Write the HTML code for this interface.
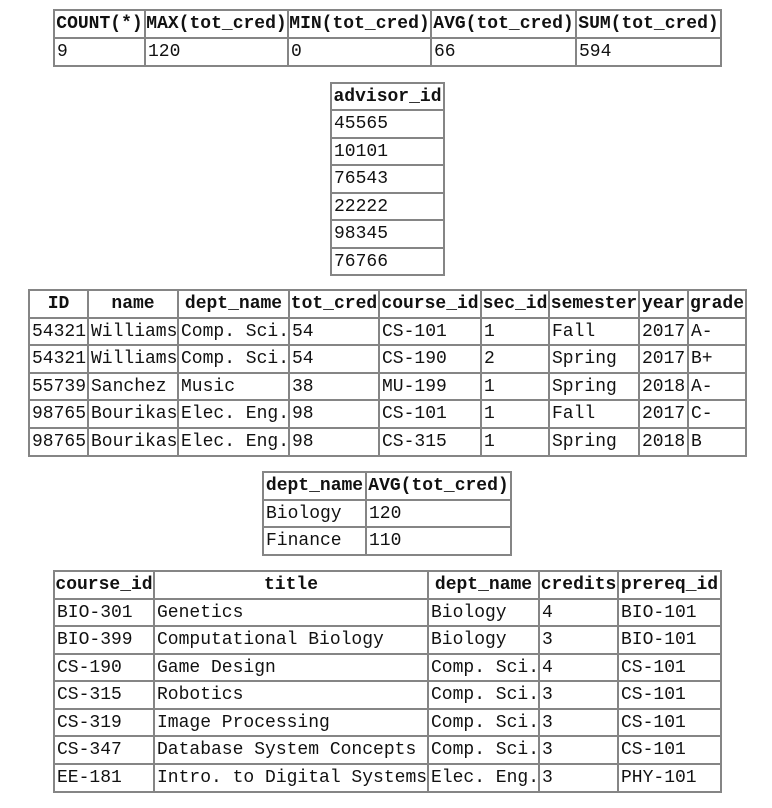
<!DOCTYPE html>
<html><head><style>
body{margin:0;width:772px;height:808px;background:#fff;position:relative;overflow:hidden}
table{position:absolute;border-collapse:collapse;table-layout:fixed;font-family:"Liberation Mono",monospace;font-size:18px;color:#111}
td,th{border:2px solid #858585;padding:0 0 0 2px;white-space:nowrap;overflow:hidden;text-align:left;line-height:20px}
th{font-weight:bold;text-align:center;padding:0}
</style></head><body>

<table style="left:53px;top:9px;width:667px">
<colgroup><col style="width:91px"><col style="width:143px"><col style="width:143px"><col style="width:145px"><col style="width:145px"></colgroup>
<tr style="height:28px"><th>COUNT(*)</th><th>MAX(tot_cred)</th><th>MIN(tot_cred)</th><th>AVG(tot_cred)</th><th>SUM(tot_cred)</th></tr>
<tr style="height:28px"><td>9</td><td>120</td><td>0</td><td>66</td><td>594</td></tr>
</table>

<table style="left:330px;top:82px;width:113px">
<colgroup><col style="width:113px"></colgroup>
<tr style="height:27px"><th>advisor_id</th></tr>
<tr style="height:28px"><td>45565</td></tr>
<tr style="height:27px"><td>10101</td></tr>
<tr style="height:28px"><td>76543</td></tr>
<tr style="height:27px"><td>22222</td></tr>
<tr style="height:28px"><td>98345</td></tr>
<tr style="height:27px"><td>76766</td></tr>
</table>

<table style="left:28px;top:289px;width:717px">
<colgroup><col style="width:59px"><col style="width:90px"><col style="width:111px"><col style="width:90px"><col style="width:102px"><col style="width:68px"><col style="width:90px"><col style="width:49px"><col style="width:58px"></colgroup>
<tr style="height:28px"><th>ID</th><th>name</th><th>dept_name</th><th>tot_cred</th><th>course_id</th><th>sec_id</th><th>semester</th><th>year</th><th>grade</th></tr>
<tr style="height:27px"><td>54321</td><td>Williams</td><td>Comp. Sci.</td><td>54</td><td>CS-101</td><td>1</td><td>Fall</td><td>2017</td><td>A-</td></tr>
<tr style="height:28px"><td>54321</td><td>Williams</td><td>Comp. Sci.</td><td>54</td><td>CS-190</td><td>2</td><td>Spring</td><td>2017</td><td>B+</td></tr>
<tr style="height:27px"><td>55739</td><td>Sanchez</td><td>Music</td><td>38</td><td>MU-199</td><td>1</td><td>Spring</td><td>2018</td><td>A-</td></tr>
<tr style="height:28px"><td>98765</td><td>Bourikas</td><td>Elec. Eng.</td><td>98</td><td>CS-101</td><td>1</td><td>Fall</td><td>2017</td><td>C-</td></tr>
<tr style="height:28px"><td>98765</td><td>Bourikas</td><td>Elec. Eng.</td><td>98</td><td>CS-315</td><td>1</td><td>Spring</td><td>2018</td><td>B</td></tr>
</table>

<table style="left:262px;top:471px;width:248px">
<colgroup><col style="width:103px"><col style="width:145px"></colgroup>
<tr style="height:28px"><th>dept_name</th><th>AVG(tot_cred)</th></tr>
<tr style="height:27px"><td>Biology</td><td>120</td></tr>
<tr style="height:28px"><td>Finance</td><td>110</td></tr>
</table>

<table style="left:53px;top:570px;width:667px">
<colgroup><col style="width:100px"><col style="width:274px"><col style="width:111px"><col style="width:79px"><col style="width:103px"></colgroup>
<tr style="height:28px"><th>course_id</th><th>title</th><th>dept_name</th><th>credits</th><th>prereq_id</th></tr>
<tr style="height:27px"><td>BIO-301</td><td>Genetics</td><td>Biology</td><td>4</td><td>BIO-101</td></tr>
<tr style="height:28px"><td>BIO-399</td><td>Computational Biology</td><td>Biology</td><td>3</td><td>BIO-101</td></tr>
<tr style="height:27px"><td>CS-190</td><td>Game Design</td><td>Comp. Sci.</td><td>4</td><td>CS-101</td></tr>
<tr style="height:28px"><td>CS-315</td><td>Robotics</td><td>Comp. Sci.</td><td>3</td><td>CS-101</td></tr>
<tr style="height:27px"><td>CS-319</td><td>Image Processing</td><td>Comp. Sci.</td><td>3</td><td>CS-101</td></tr>
<tr style="height:28px"><td>CS-347</td><td>Database System Concepts</td><td>Comp. Sci.</td><td>3</td><td>CS-101</td></tr>
<tr style="height:28px"><td>EE-181</td><td>Intro. to Digital Systems</td><td>Elec. Eng.</td><td>3</td><td>PHY-101</td></tr>
</table>

</body></html>
